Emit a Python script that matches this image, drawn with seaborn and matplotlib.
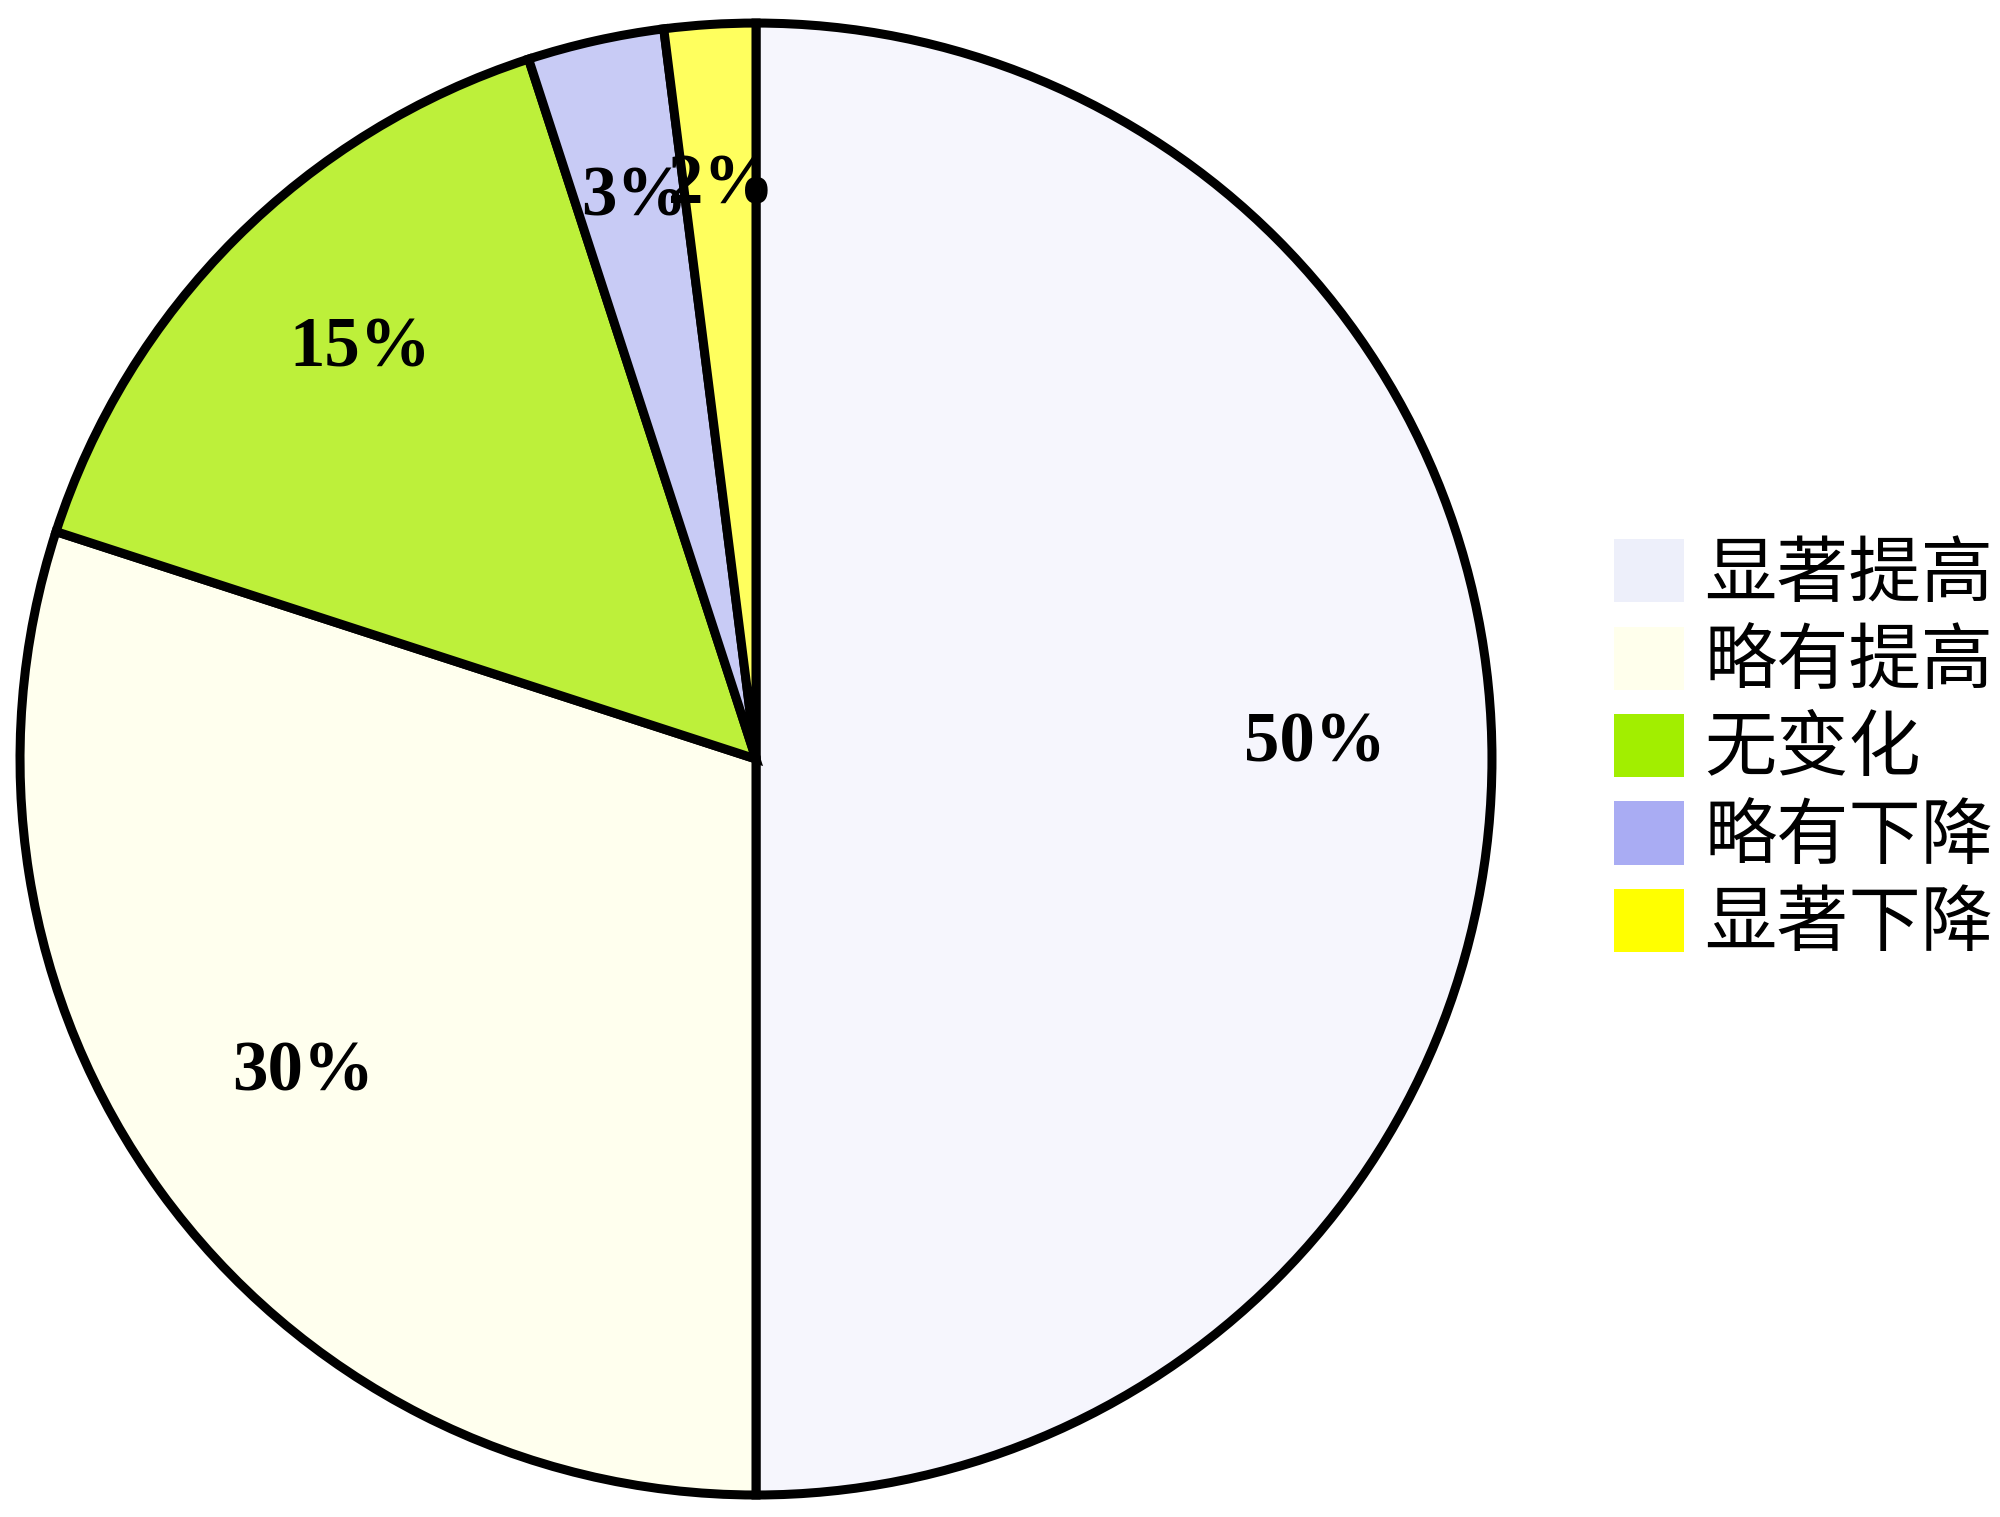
import matplotlib
matplotlib.use("Agg")
import matplotlib.pyplot as plt
import seaborn as sns
from matplotlib.patches import Patch

categories = ["显著提高", "略有提高", "无变化", "略有下降", "显著下降"]
values = [50, 30, 15, 3, 2]
slice_colors = ["#F6F6FD", "#FFFFEE", "#BDF03A", "#C8CBF5", "#FFFF5E"]
legend_colors = ["#EDEFFA", "#FFFFEC", "#A2EE00", "#A9ACF3", "#FFFF00"]

sns.set_theme(style="white")
plt.rcParams["font.family"] = ["Noto Sans CJK SC", "DejaVu Sans"]
plt.rcParams["text.color"] = "black"

fig = plt.figure(figsize=(20, 15.17), dpi=100)
ax = fig.add_axes([0.00265, 0.0048, 0.7507, 0.9897])

wedges, texts, autotexts = ax.pie(
    values,
    colors=slice_colors,
    startangle=90,
    counterclock=False,
    autopct=lambda p: f"{p:.0f}%",
    pctdistance=0.76,
    wedgeprops=dict(edgecolor="black", linewidth=6.5),
    textprops=dict(fontsize=51, fontweight="bold", family="Liberation Serif", color="black"),
)
for t in autotexts:
    x, y = t.get_position()
    t.set_position((x, y + 0.02))

ax.set_xlim(-1.02, 1.02)
ax.set_ylim(-1.02, 1.02)
ax.set_aspect("equal")
ax.axis("off")

handles = [Patch(facecolor=c, edgecolor="none") for c in legend_colors]
leg = fig.legend(
    handles, categories,
    loc="upper left",
    bbox_to_anchor=(0.807, 0.645),
    frameon=False,
    fontsize=52,
    handlelength=0.97,
    handleheight=0.97,
    handletextpad=0.28,
    labelspacing=0.2,
    borderpad=0,
    borderaxespad=0,
)
for t in leg.get_texts():
    t.set_color("black")

fig.savefig("out.png", dpi=100, facecolor="white")
